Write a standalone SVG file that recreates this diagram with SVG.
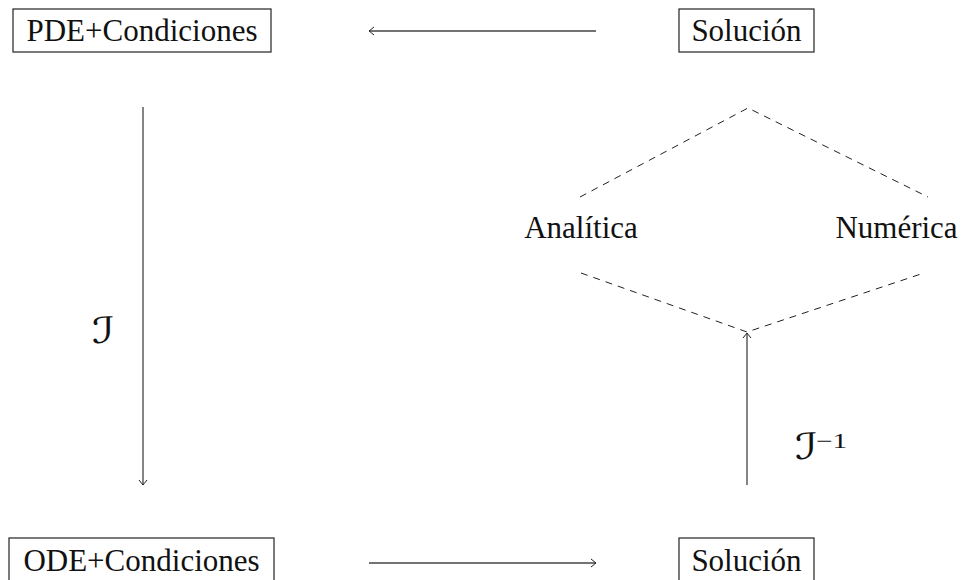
<svg xmlns="http://www.w3.org/2000/svg" width="969" height="580" viewBox="0 0 969 580">
<style>
.box{fill:#fff;stroke:#222;stroke-width:1.2}
.t{font-family:"Liberation Serif","Times New Roman",serif;font-size:31px;fill:#111;text-anchor:middle}
.m{font-family:"DejaVu Sans","DejaVu Serif",sans-serif;font-size:36px;fill:#111}
.s{font-family:"Liberation Serif","DejaVu Serif",serif;font-size:21px;fill:#111}
.ln{stroke:#444;stroke-width:1.3;fill:none}
.d{stroke:#222;stroke-width:1;fill:none;stroke-dasharray:7 6}
</style>
<defs>
<marker id="ah" viewBox="-6 -5 8 10" refX="0" refY="0" markerWidth="8" markerHeight="10" markerUnits="userSpaceOnUse" orient="auto">
<path d="M-5,-4 Q-1,-0.8 0,0 Q-1,0.8 -5,4" fill="none" stroke="#222" stroke-width="1"/>
</marker>
</defs>
<g id="pde">
<rect class="box" x="13" y="9" width="258" height="43"/>
<text class="t" x="142" y="41">PDE+Condiciones</text>
</g>
<g id="sol-top">
<rect class="box" x="679" y="9" width="135" height="43"/>
<text class="t" x="746.5" y="41">Solución</text>
</g>
<g id="analitica">
<text class="t" x="581" y="238">Analítica</text>
</g>
<g id="numerica">
<text class="t" x="896.5" y="238">Numérica</text>
</g>
<g id="ode">
<rect class="box" x="9" y="538" width="265" height="46"/>
<text class="t" x="141.5" y="571">ODE+Condiciones</text>
</g>
<g id="sol-bottom">
<rect class="box" x="679" y="538" width="135" height="46"/>
<text class="t" x="746.5" y="571">Solución</text>
</g>
<g id="connectors">
<line class="ln" x1="596" y1="31" x2="369" y2="31" marker-end="url(#ah)"/>
<line class="ln" x1="143" y1="107" x2="143" y2="485" marker-end="url(#ah)"/>
<line class="ln" x1="369" y1="563" x2="596" y2="563" marker-end="url(#ah)"/>
<line class="ln" x1="747" y1="485" x2="747" y2="333" marker-end="url(#ah)"/>
<polyline class="d" points="580,197 748,108 928,197"/>
<polyline class="d" points="581,273 747,332 921,274"/>
<text class="m" transform="translate(92,343) scale(1.35,1)">ℐ</text>
<text class="m" transform="translate(795,459) scale(1.35,1)">ℐ</text>
<text class="s" transform="translate(816,448) scale(1.4,1)">−1</text>
</g>
</svg>
